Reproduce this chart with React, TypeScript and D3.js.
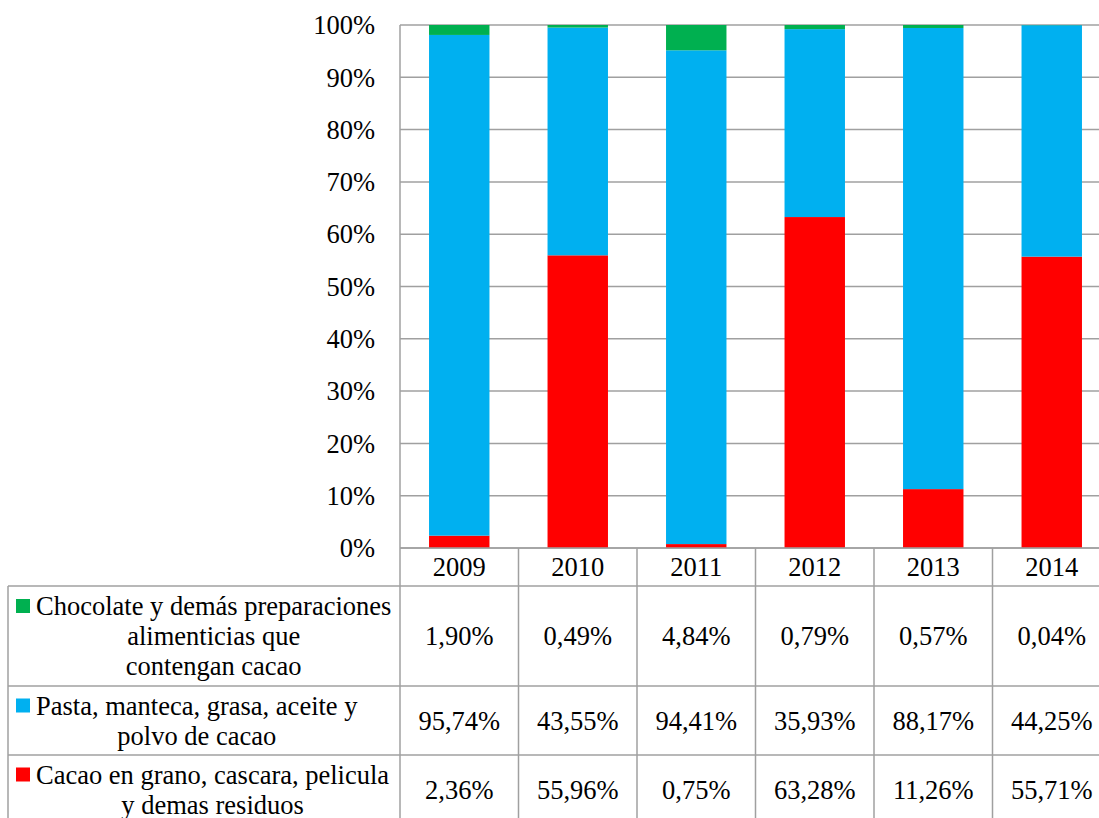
import React, { useMemo } from "react";
import * as d3 from "d3";

const years = ["2009", "2010", "2011", "2012", "2013", "2014"];
const cacaoGrano = [2.36, 55.96, 0.75, 63.28, 11.26, 55.71];
const pasta = [95.74, 43.55, 94.41, 35.93, 88.17, 44.25];
const chocolate = [1.9, 0.49, 4.84, 0.79, 0.57, 0.04];
const yTicks = [0, 0.1, 0.2, 0.3, 0.4, 0.5, 0.6, 0.7, 0.8, 0.9, 1];

const seriesKeys = ["cacao", "pasta", "choc"];
const seriesColors: Record<string, string> = { cacao: "#FF0000", pasta: "#00B0F0", choc: "#00B050" };
const tableRows = [
  { key: "choc", lines: ["Chocolate y demás preparaciones", "alimenticias que", "contengan cacao"], values: chocolate },
  { key: "pasta", lines: ["Pasta, manteca, grasa, aceite y", "polvo de cacao"], values: pasta },
  { key: "cacao", lines: ["Cacao en grano, cascara, pelicula", "y demas residuos"], values: cacaoGrano },
];

const fmt = (v: number) => v.toFixed(2).replace(".", ",") + "%";

const W = 1099, H = 818;
const left = 400, right = 1111, top = 25, bottom = 548;
const tableLeft = 8;
const rowBounds = [548, 586, 686, 755, 824];
const FONT = "Liberation Serif";
const FS = 26.5;
const GRID = "#a0a0a0";
const lineH = 30;

function measure(s: string): number {
  const c = document.createElement("canvas").getContext("2d");
  if (!c) return s.length * 11;
  c.font = `${FS}px "${FONT}"`;
  return c.measureText(s).width;
}

export default function App() {
  const x = d3.scaleBand<string>().domain(years).range([left, right]).paddingInner(0.49).paddingOuter(0.245);
  const y = d3.scaleLinear().domain([0, 1]).range([bottom, top]);
  const data = years.map((yr, i) => ({ year: yr, cacao: cacaoGrano[i], pasta: pasta[i], choc: chocolate[i] }));
  const layers = d3.stack<any>().keys(seriesKeys).offset(d3.stackOffsetExpand)(data);
  const cx = (yr: string) => x(yr)! + x.bandwidth() / 2;
  const colRight = (yr: string) => x(yr)! - x.step() * x.paddingOuter() + x.step();

  const widths = useMemo(() => tableRows.map((r) => Math.max(...r.lines.map(measure))), []);

  const txtStyle = { fontFamily: FONT, fontSize: FS } as React.CSSProperties;

  return (
    <svg width={W} height={H} style={{ position: "absolute", left: 0, top: 0, background: "#fff" }}>
      {yTicks.map((t) => (
        <line key={"g" + t} x1={left} x2={W} y1={y(t)} y2={y(t)} stroke={GRID} strokeWidth={1.5} />
      ))}
      {layers.map((layer) => (
        <g key={layer.key} fill={seriesColors[layer.key]}>
          {layer.map((d: any) => (
            <rect key={d.data.year} x={x(d.data.year)} width={x.bandwidth()} y={y(d[1])} height={y(d[0]) - y(d[1])} />
          ))}
        </g>
      ))}
      {yTicks.map((t) => (
        <text key={"t" + t} x={375} y={y(t)} dy="0.35em" textAnchor="end" style={txtStyle}>
          {d3.format(".0%")(t)}
        </text>
      ))}
      <g stroke={GRID} strokeWidth={1.5}>
        <line x1={left} x2={left} y1={top} y2={H} />
        <line x1={left} x2={W} y1={rowBounds[0]} y2={rowBounds[0]} />
        {rowBounds.slice(1).map((yy) => (
          <line key={"r" + yy} x1={tableLeft} x2={W} y1={yy} y2={yy} />
        ))}
        <line x1={tableLeft} x2={tableLeft} y1={rowBounds[1]} y2={H} />
        {years.map((yr) => (
          <line key={"c" + yr} x1={colRight(yr)} x2={colRight(yr)} y1={rowBounds[0]} y2={H} />
        ))}
      </g>
      {years.map((yr) => (
        <text key={"h" + yr} x={cx(yr)} y={(rowBounds[0] + rowBounds[1]) / 2} dy="0.35em" textAnchor="middle" style={txtStyle}>
          {yr}
        </text>
      ))}
      {tableRows.map((row, ri) => {
        const ymid = (rowBounds[ri + 1] + rowBounds[ri + 2]) / 2;
        const n = row.lines.length;
        const firstY = ymid - ((n - 1) * lineH) / 2;
        const textX = 36;
        const blockCx = textX + widths[ri] / 2;
        return (
          <g key={row.key}>
            {row.values.map((v, i) => (
              <text key={i} x={cx(years[i])} y={ymid} dy="0.35em" textAnchor="middle" style={txtStyle}>
                {fmt(v)}
              </text>
            ))}
            {row.lines.map((ln, li) => (
              <text key={"l" + li} x={blockCx} y={firstY + li * lineH} dy="0.35em" textAnchor="middle" style={txtStyle}>
                {ln}
              </text>
            ))}
            <rect x={16} y={firstY - 7} width={14} height={14} fill={seriesColors[row.key]} />
          </g>
        );
      })}
    </svg>
  );
}
